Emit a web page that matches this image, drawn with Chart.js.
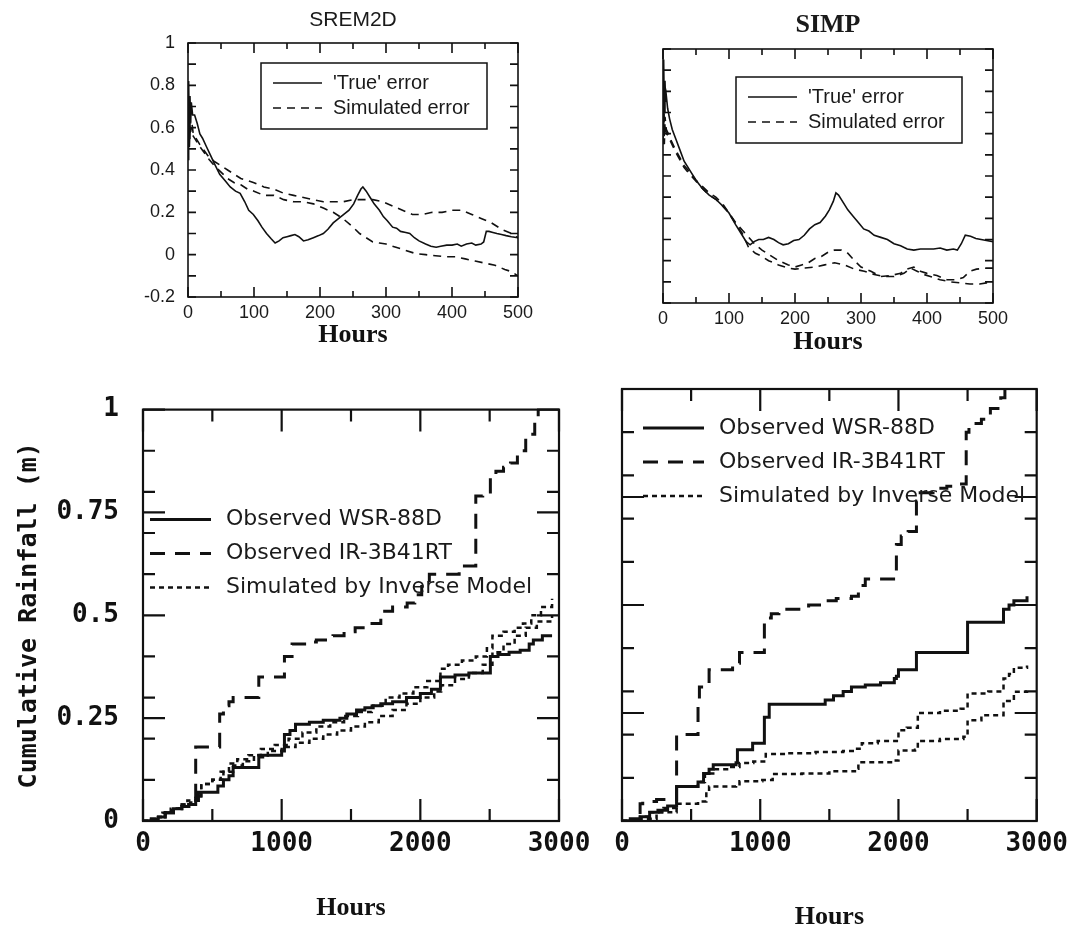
<!DOCTYPE html>
<html>
<head>
<meta charset="utf-8">
<title>SREM2D / SIMP error and cumulative rainfall</title>
<script src="https://cdn.jsdelivr.net/npm/chart.js@4.4.1/dist/chart.umd.min.js"></script>
<style>
  html, body { margin: 0; padding: 0; background: #fff; }
  body { position: relative; width: 1076px; height: 930px; overflow: hidden; }
  .panel { position: absolute; }
  .panel canvas { display: block; }
</style>
</head>
<body>
<div class="panel" style="left:110px;top:0;width:440px;height:350px"><canvas id="chartSremErr" width="440" height="350"></canvas></div>
<div class="panel" style="left:600px;top:0;width:420px;height:360px"><canvas id="chartSimpErr" width="420" height="360"></canvas></div>
<div class="panel" style="left:0;top:370px;width:600px;height:560px"><canvas id="chartSremRain" width="600" height="560"></canvas></div>
<div class="panel" style="left:580px;top:370px;width:496px;height:560px"><canvas id="chartSimpRain" width="496" height="560"></canvas></div>

<script>
// ---------- Axis ticks ----------
const errHourTickVals = [0, 50, 100, 150, 200, 250, 300, 350, 400, 450, 500];
const errHourLabels = [0, 100, 200, 300, 400, 500];
const errTickVals = [-0.2, -0.1, 0, 0.1, 0.2, 0.3, 0.4, 0.5, 0.6, 0.7, 0.8, 0.9, 1];
const errTickAt = [-0.2, 0, 0.2, 0.4, 0.6, 0.8, 1];
const errTickLabels = ["-0.2", "0", "0.2", "0.4", "0.6", "0.8", "1"];

const rainHourTickVals = [0, 500, 1000, 1500, 2000, 2500, 3000];
const rainHourLabels = [0, 1000, 2000, 3000];
const rainTickVals = [0, 0.1, 0.2, 0.25, 0.3, 0.4, 0.5, 0.6, 0.7, 0.75, 0.8, 0.9, 1];
const rainTickAt = [0, 0.25, 0.5, 0.75, 1];
const rainTickLabels = ["0", "0.25", "0.5", "0.75", "1"];

// ---------- SREM2D error (top left) ----------
const sremTrueHours = [0,1,2,3,4,5,7,10,14,18,22,28,34,40,48,56,64,72,79,86,92,99,106,112,119,126,132,138,144,150,156,162,168,175,182,190,198,205,212,220,228,236,244,251,257,262,265,270,276,282,290,296,302,310,316,322,330,336,343,350,360,368,376,383,392,400,408,414,422,430,436,444,448,452,456,462,468,475,482,490,500];
const sremTrueErr = [0.45,0.82,0.55,0.75,0.62,0.72,0.66,0.66,0.62,0.57,0.55,0.51,0.47,0.43,0.38,0.35,0.32,0.30,0.29,0.25,0.21,0.19,0.16,0.13,0.10,0.075,0.055,0.065,0.08,0.085,0.09,0.095,0.085,0.065,0.07,0.08,0.09,0.10,0.12,0.15,0.17,0.19,0.21,0.24,0.28,0.31,0.32,0.30,0.27,0.24,0.21,0.18,0.16,0.13,0.125,0.11,0.105,0.10,0.08,0.065,0.05,0.04,0.035,0.04,0.045,0.045,0.05,0.04,0.05,0.055,0.045,0.05,0.06,0.11,0.11,0.105,0.10,0.095,0.09,0.085,0.08];
const sremSimAHours = [0,1,2,3,4,6,8,12,18,25,32,40,50,60,70,80,90,100,115,130,145,160,175,190,205,220,235,250,265,280,295,310,325,340,355,370,385,400,415,430,445,460,475,490,500];
const sremSimAErr = [0.5,0.75,0.55,0.68,0.58,0.62,0.57,0.55,0.52,0.49,0.46,0.44,0.42,0.40,0.38,0.36,0.35,0.34,0.32,0.31,0.29,0.28,0.27,0.26,0.25,0.25,0.25,0.26,0.26,0.26,0.25,0.23,0.21,0.19,0.19,0.20,0.20,0.21,0.21,0.19,0.17,0.15,0.12,0.10,0.08];
const sremSimBHours = [0,1,2,3,5,8,12,18,25,32,40,50,60,70,80,90,100,115,130,145,160,175,190,205,220,235,250,260,270,280,290,300,315,330,345,360,375,390,405,420,435,450,465,480,490,500];
const sremSimBErr = [0.55,0.62,0.5,0.6,0.57,0.56,0.54,0.51,0.48,0.45,0.42,0.39,0.36,0.34,0.33,0.31,0.30,0.28,0.28,0.26,0.25,0.25,0.24,0.22,0.20,0.17,0.13,0.10,0.08,0.06,0.055,0.05,0.035,0.02,0.005,0.0,-0.005,-0.01,-0.01,-0.02,-0.03,-0.04,-0.05,-0.07,-0.08,-0.1];

// ---------- SIMP error (top right) ----------
const simpTrueHours = [0,1,2,3,4,5,7,10,14,20,26,32,40,50,60,70,80,90,100,110,120,126,132,138,145,152,160,168,175,182,190,198,206,214,222,230,238,246,252,258,262,266,272,280,288,296,304,312,320,330,340,350,360,370,380,390,400,410,420,430,440,446,452,458,466,474,482,490,500];
const simpTrueErr = [0.6,0.95,0.7,0.85,0.75,0.78,0.72,0.67,0.62,0.57,0.52,0.47,0.43,0.38,0.34,0.31,0.29,0.26,0.225,0.17,0.12,0.09,0.075,0.09,0.10,0.10,0.11,0.10,0.085,0.075,0.08,0.095,0.10,0.12,0.15,0.17,0.18,0.21,0.24,0.28,0.32,0.31,0.28,0.24,0.21,0.18,0.15,0.14,0.12,0.11,0.10,0.08,0.07,0.055,0.05,0.055,0.055,0.055,0.06,0.05,0.055,0.05,0.08,0.12,0.115,0.105,0.10,0.095,0.09];
const simpSimAHours = [0,1,2,3,5,8,12,18,25,32,40,50,60,70,80,90,100,110,120,130,140,150,160,175,190,200,210,220,230,240,250,260,270,280,290,300,315,330,345,360,370,380,390,400,415,430,445,455,465,475,490,500];
const simpSimAErr = [0.55,0.72,0.55,0.65,0.6,0.59,0.56,0.52,0.48,0.44,0.41,0.375,0.34,0.31,0.29,0.26,0.225,0.18,0.145,0.11,0.075,0.05,0.03,0.0,-0.02,-0.03,-0.02,-0.01,0.01,0.02,0.04,0.05,0.05,0.035,0.0,-0.03,-0.05,-0.075,-0.07,-0.06,-0.04,-0.03,-0.05,-0.06,-0.07,-0.09,-0.09,-0.08,-0.05,-0.04,-0.035,-0.035];
const simpSimBHours = [0,1,2,3,5,8,12,18,25,32,40,50,60,70,80,90,100,110,120,130,140,150,160,175,190,200,215,230,245,260,275,290,305,320,335,350,365,375,385,395,405,420,435,450,465,480,490,500];
const simpSimBErr = [0.6,0.78,0.58,0.68,0.62,0.6,0.57,0.53,0.49,0.45,0.42,0.38,0.35,0.32,0.30,0.27,0.225,0.175,0.13,0.06,0.035,0.02,0.0,-0.02,-0.035,-0.04,-0.035,-0.03,-0.02,-0.01,-0.02,-0.04,-0.05,-0.065,-0.075,-0.075,-0.06,-0.035,-0.05,-0.065,-0.075,-0.09,-0.1,-0.105,-0.11,-0.11,-0.105,-0.105];

// ---------- SREM2D cumulative rainfall (bottom left) ----------
const sremWsrHours = [0,60,110,160,220,280,330,380,400,540,580,620,650,700,835,1000,1020,1060,1100,1200,1300,1420,1470,1540,1600,1660,1715,1800,1900,2000,2080,2145,2250,2350,2450,2505,2560,2640,2720,2785,2815,2880,2950];
const sremWsrRain = [0,0.005,0.01,0.02,0.03,0.035,0.04,0.05,0.07,0.085,0.10,0.11,0.13,0.13,0.16,0.17,0.21,0.22,0.235,0.24,0.245,0.25,0.26,0.27,0.275,0.28,0.285,0.29,0.30,0.31,0.32,0.35,0.355,0.36,0.36,0.40,0.405,0.41,0.415,0.43,0.44,0.45,0.45];
const sremIrHours = [0,60,110,160,220,280,330,380,553,580,620,650,835,1020,1075,1180,1250,1370,1450,1530,1610,1715,1800,1905,1960,2010,2065,2280,2400,2450,2505,2545,2600,2650,2700,2760,2825,2850];
const sremIrRain = [0,0.005,0.01,0.02,0.03,0.035,0.04,0.18,0.26,0.28,0.29,0.30,0.35,0.40,0.43,0.435,0.44,0.45,0.46,0.47,0.48,0.51,0.52,0.53,0.55,0.57,0.60,0.62,0.79,0.80,0.84,0.85,0.86,0.87,0.90,0.94,0.98,1.0];
const sremInvAHours = [0,80,140,200,260,320,380,420,500,560,620,680,760,850,950,1050,1150,1250,1350,1450,1550,1650,1750,1850,1950,2050,2145,2200,2300,2400,2480,2520,2600,2680,2740,2800,2870,2950];
const sremInvARain = [0,0.01,0.02,0.03,0.04,0.05,0.06,0.09,0.10,0.12,0.14,0.15,0.16,0.175,0.185,0.20,0.215,0.23,0.24,0.255,0.265,0.28,0.30,0.31,0.325,0.34,0.37,0.38,0.39,0.40,0.42,0.45,0.46,0.47,0.48,0.50,0.52,0.54];
const sremInvBHours = [0,100,160,220,280,340,380,420,500,580,650,720,800,900,1000,1100,1200,1300,1400,1500,1600,1700,1800,1900,2000,2100,2150,2250,2350,2450,2520,2600,2680,2760,2840,2950];
const sremInvBRain = [0,0.01,0.02,0.03,0.04,0.045,0.06,0.09,0.10,0.12,0.135,0.145,0.155,0.17,0.18,0.19,0.20,0.21,0.22,0.23,0.24,0.255,0.27,0.285,0.30,0.315,0.33,0.345,0.36,0.38,0.41,0.43,0.45,0.47,0.485,0.50];

// ---------- SIMP cumulative rainfall (bottom right) ----------
const simpWsrHours = [0,60,131,200,260,330,395,550,590,630,660,825,835,945,1030,1065,1470,1530,1600,1660,1760,1870,1970,1985,2000,2130,2500,2760,2800,2835,2930];
const simpWsrRain = [0,0.005,0.01,0.02,0.025,0.035,0.08,0.09,0.11,0.12,0.13,0.135,0.165,0.18,0.24,0.27,0.28,0.29,0.30,0.31,0.315,0.32,0.33,0.335,0.35,0.39,0.46,0.49,0.50,0.51,0.52];
const simpIrHours = [0,131,150,250,320,395,550,560,630,800,850,945,1030,1080,1135,1350,1450,1550,1660,1710,1760,1985,2020,2070,2130,2140,2250,2350,2430,2490,2510,2600,2665,2740,2770];
const simpIrRain = [0,0.04,0.045,0.05,0.05,0.20,0.27,0.31,0.35,0.365,0.39,0.39,0.47,0.48,0.49,0.50,0.51,0.515,0.52,0.545,0.56,0.64,0.66,0.67,0.74,0.76,0.77,0.775,0.78,0.90,0.92,0.93,0.955,0.98,1.0];
const simpInvAHours = [0,131,200,300,395,550,600,660,760,850,950,1040,1200,1400,1600,1685,1735,1850,2000,2060,2140,2300,2450,2500,2650,2760,2800,2835,2930];
const simpInvARain = [0,0.01,0.02,0.03,0.08,0.09,0.11,0.12,0.125,0.134,0.138,0.155,0.157,0.16,0.162,0.167,0.18,0.185,0.21,0.216,0.25,0.255,0.26,0.295,0.30,0.33,0.34,0.355,0.36];
const simpInvBHours = [0,131,250,395,550,610,630,825,850,1015,1090,1300,1500,1685,1710,1970,2000,2120,2140,2300,2470,2500,2600,2760,2835,2930];
const simpInvBRain = [0,0.005,0.02,0.04,0.045,0.068,0.08,0.085,0.092,0.095,0.109,0.11,0.115,0.121,0.136,0.14,0.163,0.165,0.185,0.19,0.195,0.233,0.245,0.278,0.299,0.30];

// ---------- Helpers ----------
const INK = "#111";
function pts(xs, ys) { return xs.map((x, i) => ({ x: x, y: ys[i] })); }
function near(list, v) { return list.some(t => Math.abs(t - v) < 1e-9); }
function labelFor(at, labels, v) {
  const i = at.findIndex(t => Math.abs(t - v) < 1e-9);
  return i >= 0 ? labels[i] : "";
}

// frame round the plot area, with ticks pointing inwards on all four sides
const frameTicks = {
  id: "frameTicks",
  afterDatasetsDraw(chart, args, o) {
    const { ctx, chartArea: a, scales } = chart;
    ctx.save();
    ctx.strokeStyle = INK;
    ctx.lineWidth = o.lineWidth;
    ctx.setLineDash([]);
    ctx.strokeRect(a.left, a.top, a.right - a.left, a.bottom - a.top);
    ctx.beginPath();
    scales.x.ticks.forEach(t => {
      const px = scales.x.getPixelForValue(t.value);
      const len = near(o.xMajor, t.value) ? o.xLong : o.xShort;
      ctx.moveTo(px, a.bottom); ctx.lineTo(px, a.bottom - len);
      ctx.moveTo(px, a.top); ctx.lineTo(px, a.top + len);
    });
    scales.y.ticks.forEach(t => {
      const py = scales.y.getPixelForValue(t.value);
      const len = near(o.yMajor, t.value) ? o.yLong : o.yShort;
      ctx.moveTo(a.left, py); ctx.lineTo(a.left + len, py);
      ctx.moveTo(a.right, py); ctx.lineTo(a.right - len, py);
    });
    ctx.stroke();
    ctx.restore();
  }
};

// legend drawn inside the plot area (optionally boxed)
const insetLegend = {
  id: "insetLegend",
  afterDatasetsDraw(chart, args, o) {
    const { ctx, chartArea: a } = chart;
    const x0 = a.left + o.left, y0 = a.top + o.top;
    ctx.save();
    if (o.box) {
      ctx.lineWidth = 1.5;
      ctx.strokeStyle = INK;
      ctx.strokeRect(x0, y0, o.width, o.height);
    }
    const items = chart.data.datasets.filter(d => d.showInLegend);
    items.forEach((d, i) => {
      const y = y0 + o.rows[i];
      ctx.beginPath();
      ctx.setLineDash(d.borderDash || []);
      ctx.lineWidth = d.borderWidth;
      ctx.strokeStyle = d.borderColor;
      ctx.moveTo(x0 + o.sample[0], y);
      ctx.lineTo(x0 + o.sample[1], y);
      ctx.stroke();
      ctx.setLineDash([]);
      ctx.fillStyle = "#1a1a1a";
      ctx.font = o.font;
      ctx.textBaseline = "middle";
      ctx.textAlign = "left";
      ctx.fillText(d.label, x0 + o.text, y);
    });
    ctx.restore();
  }
};

function series(label, xs, ys, style, inLegend) {
  return Object.assign({
    label: label,
    data: pts(xs, ys),
    borderColor: INK,
    backgroundColor: INK,
    pointRadius: 0,
    fill: false,
    tension: 0,
    showInLegend: inLegend
  }, style);
}

// ---------- Top panels: error vs hours ----------
function errChart(id, title, titleFont, titlePad, sets, opt) {
  return new Chart(document.getElementById(id), {
    type: "line",
    data: { datasets: sets },
    options: {
      responsive: false,
      animation: false,
      events: [],
      layout: { padding: { top: 0, right: opt.padRight, bottom: 0, left: 0 } },
      scales: {
        x: {
          type: "linear", min: 0, max: 500,
          grid: { display: false, drawTicks: false }, border: { display: false },
          afterBuildTicks: s => { s.ticks = errHourTickVals.map(v => ({ value: v })); },
          ticks: {
            autoSkip: false, maxRotation: 0, padding: 5, color: "#1a1a1a",
            font: { family: "Liberation Sans", size: 18 },
            callback: v => errHourLabels.includes(v) ? String(v) : ""
          },
          title: {
            display: true, text: "Hours", color: INK,
            font: { family: "Liberation Serif", weight: "bold", size: 26, lineHeight: 1 },
            padding: { top: 0, bottom: opt.hoursPad }
          },
          afterFit: s => { s.height = opt.xHeight; }
        },
        y: {
          type: "linear", min: -0.2, max: 1,
          grid: { display: false, drawTicks: false }, border: { display: false },
          afterBuildTicks: s => { s.ticks = errTickVals.map(v => ({ value: v })); },
          ticks: {
            display: opt.yLabels, autoSkip: false, padding: 13, color: "#1a1a1a",
            font: { family: "Liberation Sans", size: 18 },
            callback: v => labelFor(errTickAt, errTickLabels, v)
          },
          afterFit: s => { s.width = opt.yWidth; }
        }
      },
      plugins: {
        legend: { display: false },
        tooltip: { enabled: false },
        title: {
          display: true, text: title, fullSize: false, color: "#1a1a1a",
          font: titleFont, padding: titlePad
        },
        frameTicks: {
          lineWidth: 1.6,
          xMajor: errHourLabels, xLong: 10, xShort: 6,
          yMajor: errTickAt, yLong: 8, yShort: 8
        },
        insetLegend: {
          box: true, left: 73, top: opt.legendTop, width: 226, height: 66,
          rows: [20, 45], sample: [12, 61], text: 72,
          font: '20px "Liberation Sans"'
        }
      }
    },
    plugins: [frameTicks, insetLegend]
  });
}

const solidThin = { borderWidth: 1.6 };
const dashThin = { borderWidth: 1.6, borderDash: [8, 6] };

errChart("chartSremErr", "SREM2D",
  { family: "Liberation Sans", weight: "normal", size: 21, lineHeight: 1 }, { top: 10, bottom: 12 },
  [
    series("'True' error", sremTrueHours, sremTrueErr, solidThin, true),
    series("Simulated error", sremSimAHours, sremSimAErr, dashThin, true),
    series("Simulated error (2)", sremSimBHours, sremSimBErr, dashThin, false)
  ],
  { padRight: 32, yWidth: 78, xHeight: 53, hoursPad: 2, yLabels: true, legendTop: 20 });

errChart("chartSimpErr", "SIMP",
  { family: "Liberation Serif", weight: "bold", size: 26, lineHeight: 1 }, { top: 12, bottom: 11 },
  [
    series("'True' error", simpTrueHours, simpTrueErr, solidThin, true),
    series("Simulated error", simpSimAHours, simpSimAErr, dashThin, true),
    series("Simulated error (2)", simpSimBHours, simpSimBErr, dashThin, false)
  ],
  { padRight: 27, yWidth: 63, xHeight: 57, hoursPad: 5, yLabels: false, legendTop: 28 });

// ---------- Bottom panels: cumulative rainfall ----------
function rainChart(id, sets, opt) {
  return new Chart(document.getElementById(id), {
    type: "line",
    data: { datasets: sets },
    options: {
      responsive: false,
      animation: false,
      events: [],
      layout: { padding: { top: 19, right: opt.padRight, bottom: 0, left: 0 } },
      scales: {
        x: {
          type: "linear", min: 0, max: 3000,
          grid: { display: false, drawTicks: false }, border: { display: false },
          afterBuildTicks: s => { s.ticks = rainHourTickVals.map(v => ({ value: v })); },
          ticks: {
            autoSkip: false, maxRotation: 0, padding: 8, color: INK,
            font: { family: "DejaVu Sans Mono", weight: "bold", size: 26 },
            callback: v => rainHourLabels.includes(v) ? String(v) : ""
          },
          title: {
            display: true, text: "Hours", color: INK,
            font: { family: "Liberation Serif", weight: "bold", size: 26, lineHeight: 1 },
            padding: { top: 0, bottom: opt.hoursPad }
          },
          afterFit: s => { s.height = 109; }
        },
        y: {
          type: "linear", min: 0, max: 1,
          grid: { display: false, drawTicks: false }, border: { display: false },
          afterBuildTicks: s => { s.ticks = rainTickVals.map(v => ({ value: v })); },
          ticks: {
            display: opt.yLabels, autoSkip: false, padding: 24, color: INK,
            font: { family: "DejaVu Sans Mono", weight: "bold", size: 26 },
            callback: v => labelFor(rainTickAt, rainTickLabels, v)
          },
          title: {
            display: opt.yLabels, text: "Cumulative Rainfall (m)", color: INK,
            font: { family: "DejaVu Sans Mono", weight: "bold", size: 25, lineHeight: 1 },
            padding: { top: 17, bottom: 0 }
          },
          afterFit: s => { s.width = opt.yWidth; }
        }
      },
      plugins: {
        legend: { display: false },
        tooltip: { enabled: false },
        frameTicks: {
          lineWidth: 2.2,
          xMajor: rainHourLabels, xLong: 22, xShort: 12,
          yMajor: rainTickAt, yLong: 22, yShort: 12
        },
        insetLegend: {
          box: false, left: opt.legendLeft, top: opt.legendTop,
          rows: [0, 34, 68], sample: [0, 61], text: 76,
          font: '22px "DejaVu Sans"'
        }
      }
    },
    plugins: [frameTicks, insetLegend]
  });
}

const solidThick = { borderWidth: 3, stepped: true };
const dashThick = { borderWidth: 3, borderDash: [15, 10], stepped: true };
const dotThick = { borderWidth: 2.5, borderDash: [5, 4], stepped: true };

rainChart("chartSremRain", [
  series("Observed WSR-88D", sremWsrHours, sremWsrRain, solidThick, true),
  series("Observed IR-3B41RT", sremIrHours, sremIrRain, dashThick, true),
  series("Simulated by Inverse Model", sremInvAHours, sremInvARain, dotThick, true),
  series("Simulated by Inverse Model (2)", sremInvBHours, sremInvBRain, dotThick, false)
], { padRight: 41, yWidth: 143, hoursPad: 9, yLabels: true, legendLeft: 7, legendTop: 110 });

rainChart("chartSimpRain", [
  series("Observed WSR-88D", simpWsrHours, simpWsrRain, solidThick, true),
  series("Observed IR-3B41RT", simpIrHours, simpIrRain, dashThick, true),
  series("Simulated by Inverse Model", simpInvAHours, simpInvARain, dotThick, true),
  series("Simulated by Inverse Model (2)", simpInvBHours, simpInvBRain, dotThick, false)
], { padRight: 36, yWidth: 42, hoursPad: 0, yLabels: false, legendLeft: 21, legendTop: 39 });
</script>
</body>
</html>
